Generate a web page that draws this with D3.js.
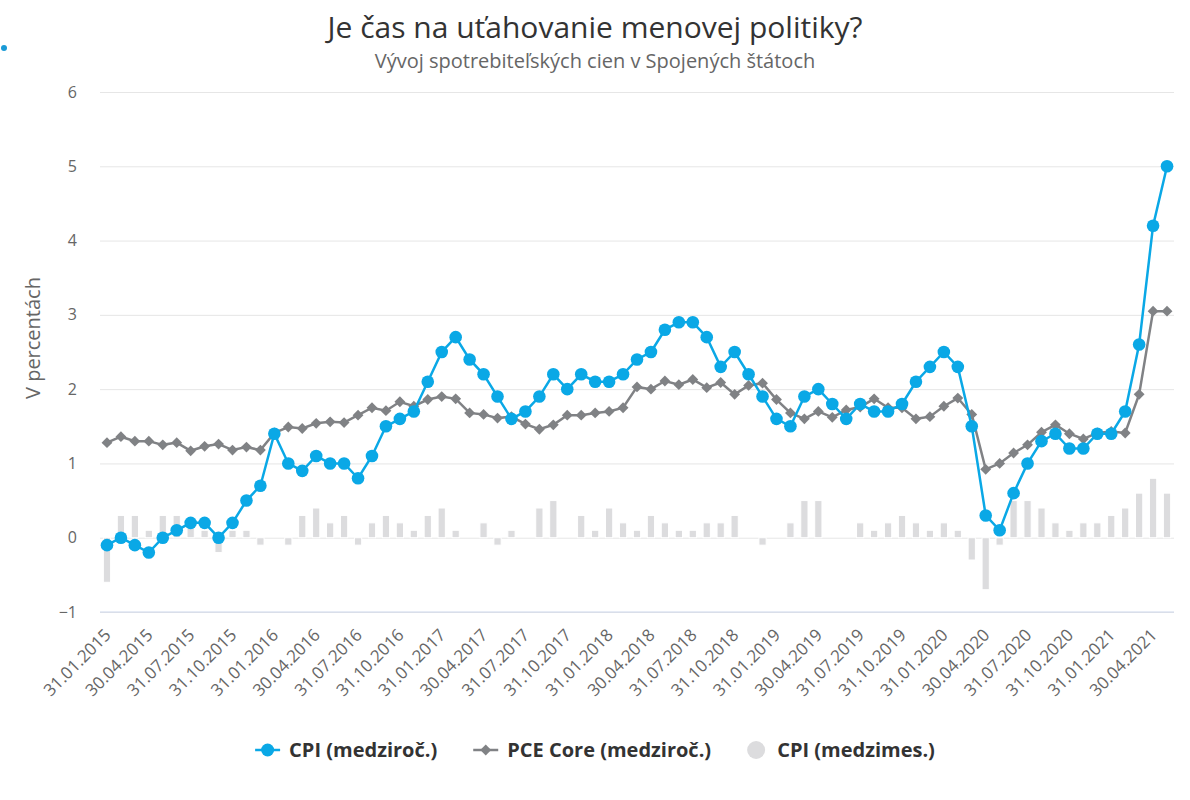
<!DOCTYPE html>
<html>
<head>
<meta charset="utf-8">
<script src="https://cdn.jsdelivr.net/npm/d3@7"></script>
<style>
  body { margin: 0; background: #fff; }
  text { font-family: "Open Sans", sans-serif; }
</style>
</head>
<body>
<div id="chart"></div>
<script>
// mesacne data 31.01.2015 - 31.05.2021
const startYear = 2015;
const monthCount = 77;

const cpiYoY = [
  -0.1, 0.0, -0.1, -0.2, 0.0, 0.1, 0.2, 0.2, 0.0, 0.2, 0.5, 0.7,
  1.4, 1.0, 0.9, 1.1, 1.0, 1.0, 0.8, 1.1, 1.5, 1.6, 1.7, 2.1,
  2.5, 2.7, 2.4, 2.2, 1.9, 1.6, 1.7, 1.9, 2.2, 2.0, 2.2, 2.1,
  2.1, 2.2, 2.4, 2.5, 2.8, 2.9, 2.9, 2.7, 2.3, 2.5, 2.2, 1.9,
  1.6, 1.5, 1.9, 2.0, 1.8, 1.6, 1.8, 1.7, 1.7, 1.8, 2.1, 2.3,
  2.5, 2.3, 1.5, 0.3, 0.1, 0.6, 1.0, 1.3, 1.4, 1.2, 1.2, 1.4,
  1.4, 1.7, 2.6, 4.2, 5.0
];

const pceCore = [
  1.28, 1.36, 1.30, 1.30, 1.25, 1.28, 1.17, 1.23, 1.26, 1.18, 1.22, 1.18,
  1.41, 1.49, 1.47, 1.54, 1.56, 1.55, 1.65, 1.75, 1.71, 1.83, 1.77, 1.86,
  1.90, 1.87, 1.68, 1.66, 1.61, 1.63, 1.53, 1.46, 1.52, 1.65, 1.65, 1.68,
  1.70, 1.75, 2.03, 2.00, 2.11, 2.06, 2.13, 2.02, 2.09, 1.93, 2.05, 2.08,
  1.86, 1.68, 1.60, 1.70, 1.62, 1.72, 1.76, 1.87, 1.75, 1.75, 1.60, 1.63,
  1.77, 1.88, 1.66, 0.92, 1.00, 1.14, 1.25, 1.42, 1.52, 1.40, 1.33, 1.41,
  1.43, 1.41, 1.93, 3.05, 3.05
];

const cpiMoM = [
  -0.6, 0.3, 0.3, 0.1, 0.3, 0.3, 0.2, 0.1, -0.2, 0.1, 0.1, -0.1,
  0.0, -0.1, 0.3, 0.4, 0.2, 0.3, -0.1, 0.2, 0.3, 0.2, 0.1, 0.3,
  0.4, 0.1, 0.0, 0.2, -0.1, 0.1, 0.0, 0.4, 0.5, 0.0, 0.3, 0.1,
  0.4, 0.2, 0.1, 0.3, 0.2, 0.1, 0.1, 0.2, 0.2, 0.3, 0.0, -0.1,
  0.0, 0.2, 0.5, 0.5, 0.0, 0.0, 0.2, 0.1, 0.2, 0.3, 0.2, 0.1,
  0.2, 0.1, -0.3, -0.7, -0.1, 0.5, 0.5, 0.4, 0.2, 0.1, 0.2, 0.2,
  0.3, 0.4, 0.6, 0.8, 0.6
];

const yTicks = [-1, 0, 1, 2, 3, 4, 5, 6];

const seriesNames = ["CPI (medziroč.)", "PCE Core (medziroč.)", "CPI (medzimes.)"];

// datumy = posledny den mesiaca
const dates = d3.range(monthCount).map(i => new Date(startYear, i + 1, 0));
const fmt = d3.timeFormat("%d.%m.%Y");
const labels = dates.map(fmt);

const width = 1190, height = 800;
const margin = {top: 92, right: 16, bottom: 188, left: 100};

const cpiColor = "#0aa8e6",
      pceColor = "#808285",
      barColor = "#dcdcde";

const svg = d3.select("#chart").append("svg")
    .attr("width", width)
    .attr("height", height);

const xScale = d3.scaleBand()
    .domain(d3.range(monthCount))
    .range([margin.left, width - margin.right]);

const yScale = d3.scaleLinear()
    .domain([-1, 6])
    .range([height - margin.bottom, margin.top]);

const cx = i => xScale(i) + xScale.bandwidth() / 2;

// titulky
svg.append("text")
    .attr("x", 595).attr("y", 38)
    .attr("text-anchor", "middle")
    .style("font-size", "30px")
    .style("fill", "#333")
    .text("Je čas na uťahovanie menovej politiky?");

svg.append("text")
    .attr("x", 595).attr("y", 68)
    .attr("text-anchor", "middle")
    .style("font-size", "20px")
    .style("fill", "#666")
    .text("Vývoj spotrebiteľských cien v Spojených štátoch");

svg.append("circle")
    .attr("cx", 4).attr("cy", 48).attr("r", 3)
    .style("fill", "#1a9ad6");

// mriezka + os y
const yAxis = d3.axisLeft(yScale)
    .tickValues(yTicks)
    .tickSize(-(width - margin.left - margin.right))
    .tickPadding(23)
    .tickFormat(d => d < 0 ? "\u2212" + Math.abs(d) : d);

const gy = svg.append("g")
    .attr("transform", `translate(${margin.left},0)`)
    .call(yAxis);
gy.select(".domain").remove();
gy.selectAll(".tick line").style("stroke", "#e6e6e6");
gy.selectAll(".tick text")
    .style("font-size", "16px")
    .style("fill", "#666")
    .style("font-family", "'Open Sans', sans-serif");

svg.append("text")
    .attr("transform", `translate(40,${(margin.top + height - margin.bottom) / 2 - 14}) rotate(-90)`)
    .attr("text-anchor", "middle")
    .style("font-size", "20px")
    .style("fill", "#666")
    .text("V percentách");

// os x
svg.append("line")
    .attr("x1", margin.left).attr("x2", width - margin.right)
    .attr("y1", yScale(-1)).attr("y2", yScale(-1))
    .style("stroke", "#ccd6eb");

svg.append("g").selectAll("text")
    .data(d3.range(0, monthCount, 3))
    .enter().append("text")
    .attr("text-anchor", "end")
    .attr("transform", i => `translate(${cx(i) + 5},${yScale(-1) + 24}) rotate(-45)`)
    .style("font-size", "17px")
    .style("fill", "#666")
    .text(i => labels[i]);

// stlpce medzimesacne
const barW = xScale.bandwidth() * 0.52;
svg.append("g").selectAll("rect")
    .data(cpiMoM)
    .enter().append("rect")
    .attr("x", (d, i) => cx(i) - barW / 2)
    .attr("y", d => yScale(Math.max(0, d)))
    .attr("width", barW)
    .attr("height", d => Math.abs(yScale(d) - yScale(0)))
    .style("fill", barColor)
    .style("stroke", "#fff")
    .style("stroke-width", 1);

// PCE core
const line = d3.line().x((d, i) => cx(i)).y(d => yScale(d));

svg.append("path")
    .datum(pceCore)
    .attr("d", line)
    .style("fill", "none")
    .style("stroke", pceColor)
    .style("stroke-width", 2.5);

const diamond = d3.symbol().type(d3.symbolDiamond2).size(75);
svg.append("g").selectAll("path")
    .data(pceCore)
    .enter().append("path")
    .attr("d", diamond)
    .attr("transform", (d, i) => `translate(${cx(i)},${yScale(d)})`)
    .style("fill", pceColor);

// CPI medzirocne
svg.append("path")
    .datum(cpiYoY)
    .attr("d", line)
    .style("fill", "none")
    .style("stroke", cpiColor)
    .style("stroke-width", 2.5);

svg.append("g").selectAll("circle")
    .data(cpiYoY)
    .enter().append("circle")
    .attr("cx", (d, i) => cx(i))
    .attr("cy", d => yScale(d))
    .attr("r", 6.3)
    .style("fill", cpiColor);

// legenda
const legend = svg.append("g");
const legendY = 750;
let lx = 0;
seriesNames.forEach((name, k) => {
    const g = legend.append("g").attr("transform", `translate(${lx},0)`);
    if (k < 2) {
        const col = k === 0 ? cpiColor : pceColor;
        g.append("line")
            .attr("x1", 0).attr("x2", 25)
            .attr("y1", legendY).attr("y2", legendY)
            .style("stroke", col).style("stroke-width", 2.5);
        if (k === 0) {
            g.append("circle").attr("cx", 12.5).attr("cy", legendY).attr("r", 6.5).style("fill", col);
        } else {
            g.append("path").attr("d", diamond)
                .attr("transform", `translate(12.5,${legendY})`).style("fill", col);
        }
    } else {
        g.append("circle").attr("cx", 9).attr("cy", legendY).attr("r", 9).style("fill", barColor);
    }
    const tx = k < 2 ? 34 : 30;
    const t = g.append("text")
        .attr("x", tx).attr("y", legendY + 7)
        .style("font-size", "20px")
        .style("font-weight", "bold")
        .style("fill", "#333")
        .text(name);
    lx += tx + t.node().getComputedTextLength() + 36;
});
const legendW = lx - 36;
legend.attr("transform", `translate(${595 - legendW / 2},0)`);
</script>
</body>
</html>
